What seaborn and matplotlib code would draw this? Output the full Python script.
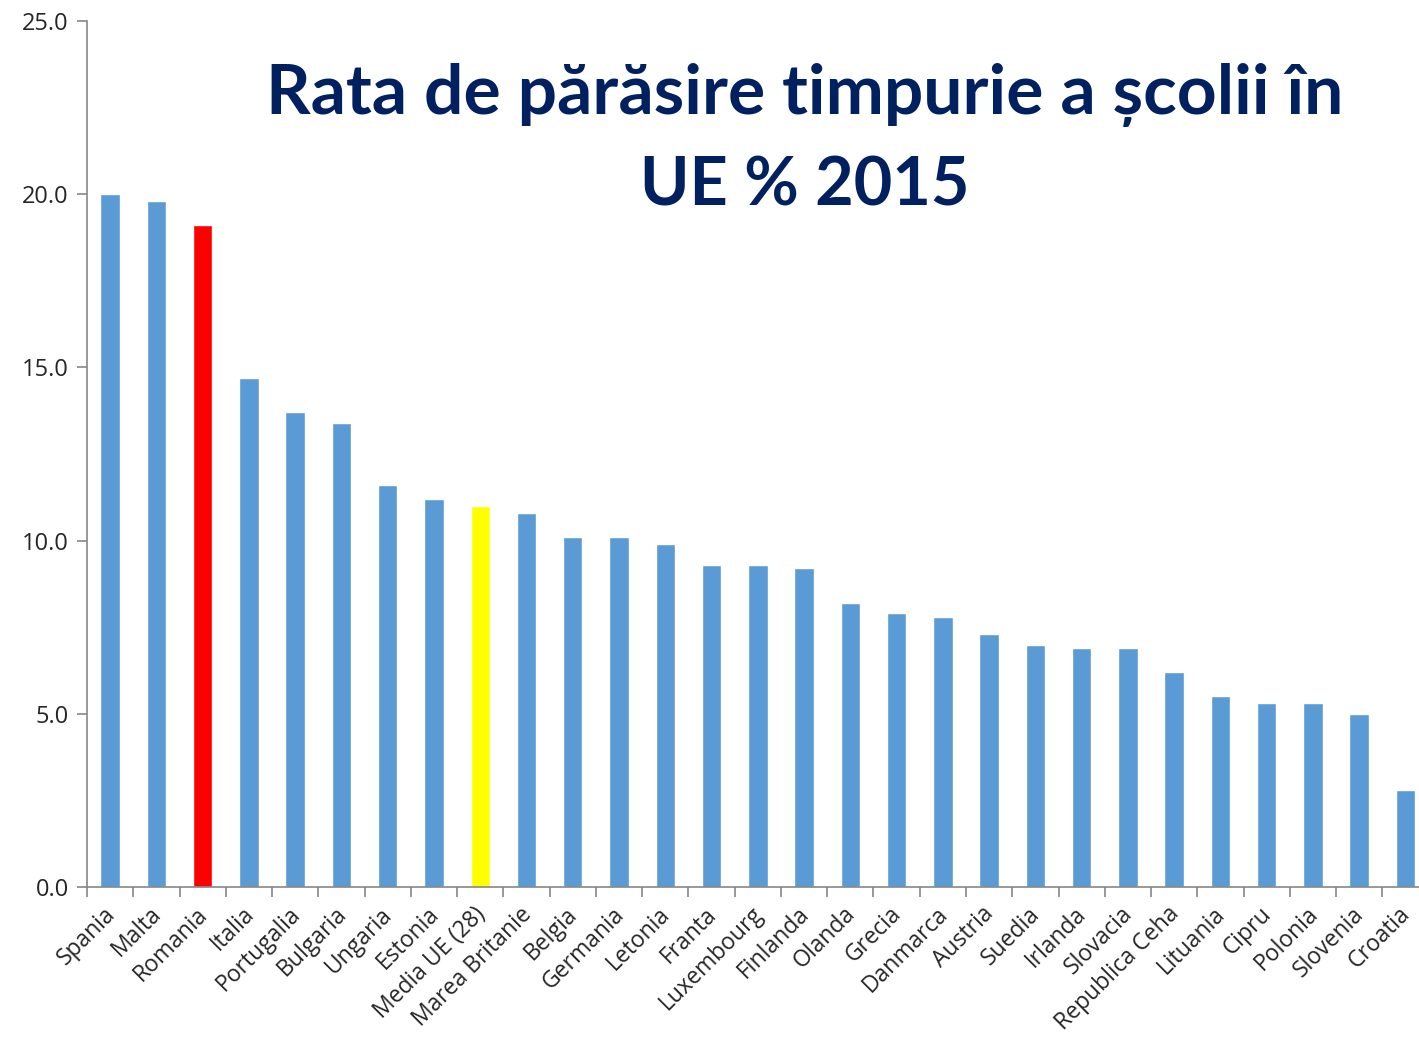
import numpy as np
import pandas as pd
import seaborn as sns
import matplotlib.pyplot as plt
import matplotlib.transforms as mtransforms
from matplotlib.ticker import FixedLocator, FormatStrFormatter

tari = ["Spania", "Malta", "Romania", "Italia", "Portugalia", "Bulgaria", "Ungaria",
        "Estonia", "Media UE (28)", "Marea Britanie", "Belgia", "Germania", "Letonia",
        "Franta", "Luxembourg", "Finlanda", "Olanda", "Grecia", "Danmarca", "Austria",
        "Suedia", "Irlanda", "Slovacia", "Republica Ceha", "Lituania", "Cipru",
        "Polonia", "Slovenia", "Croatia"]
rata = [20.0, 19.8, 19.1, 14.7, 13.7, 13.4, 11.6, 11.2, 11.0, 10.8, 10.1, 10.1, 9.9,
        9.3, 9.3, 9.2, 8.2, 7.9, 7.8, 7.3, 7.0, 6.9, 6.9, 6.2, 5.5, 5.3, 5.3, 5.0, 2.8]

titlu_1 = "Rata de părăsire timpurie a școlii în"
titlu_2 = "UE % 2015"

blue = "#5B9BD5"
special = {"Romania": "#FF0000", "Media UE (28)": "#FFFF00"}
palette = [special.get(t, blue) for t in tari]

sns.set_style("white")
plt.rcParams['font.family'] = ['Open Sans', 'DejaVu Sans']

df = pd.DataFrame({"tara": tari, "rata": rata})

fig = plt.figure(figsize=(14.19, 10.40), dpi=100)
ax = fig.add_axes([87/1419, 153/1040, 1341.6/1419, 866/1040])

sns.barplot(data=df, x="tara", y="rata", hue="tara", palette=palette, legend=False,
            width=0.42, saturation=1, ax=ax)

ax.set_xlim(-0.5, len(tari) - 0.5)
ax.set_ylim(0, 25)
ax.set_xlabel('')
ax.set_ylabel('')

ax.yaxis.set_major_locator(FixedLocator([0, 5, 10, 15, 20, 25]))
ax.yaxis.set_major_formatter(FormatStrFormatter('%.1f'))
ax.tick_params(axis='y', which='major', length=7, width=1.2, color='#868686',
               labelsize=17, pad=6, left=True)

ax.set_xticks(range(len(tari)))
ax.set_xticklabels(tari, rotation=45, ha='right', rotation_mode='anchor', fontsize=16.5)
ax.tick_params(axis='x', which='major', length=0, pad=11)
ax.xaxis.set_minor_locator(FixedLocator(np.arange(-0.5, len(tari), 1)))
ax.tick_params(axis='x', which='minor', length=7, width=1.2, color='#868686', bottom=True)

# shift the rotated labels a little to the left, as in the original
shift = mtransforms.ScaledTranslation(-7/100, 0, fig.dpi_scale_trans)
for lbl in ax.get_xticklabels():
    lbl.set_transform(lbl.get_transform() + shift)

for s in ['top', 'right']:
    ax.spines[s].set_visible(False)
for s in ['left', 'bottom']:
    ax.spines[s].set_color('#868686')
    ax.spines[s].set_linewidth(1.2)

fig.text(805/1419, 1 - 95/1040, titlu_1, ha='center', va='center', fontsize=50,
         fontweight='bold', color='#002060', family=['Lato', 'DejaVu Sans'])
fig.text(805/1419, 1 - 186/1040, titlu_2, ha='center', va='center', fontsize=48,
         fontweight='bold', color='#002060', family=['Lato', 'DejaVu Sans'])

fig.savefig("out.png", dpi=100)
